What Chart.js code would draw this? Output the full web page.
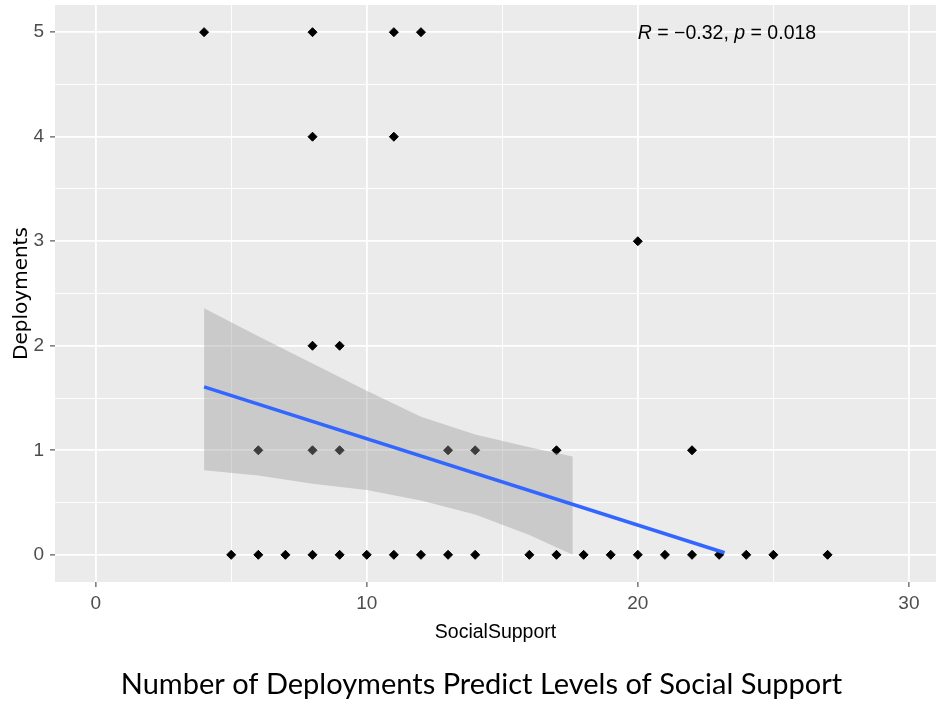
<!DOCTYPE html>
<html>
<head>
<meta charset="utf-8">
<script src="https://cdn.jsdelivr.net/npm/chart.js@4.4.1/dist/chart.umd.min.js"></script>
<style>
  html, body { margin: 0; padding: 0; background: #fff; }
</style>
</head>
<body>
<canvas id="corrChart" width="936" height="702"></canvas>
<script>
// observations
const socialSupport = [4, 8, 11, 12, 8, 11, 20, 8, 9, 6, 8, 9, 13, 14, 17, 22,
    5, 6, 7, 8, 9, 10, 11, 12, 13, 14, 16, 17, 18, 19, 20, 21, 22, 23, 24, 25, 27];
const deployments = [5, 5, 5, 5, 4, 4, 3, 2, 2, 1, 1, 1, 1, 1, 1, 1,
    0, 0, 0, 0, 0, 0, 0, 0, 0, 0, 0, 0, 0, 0, 0, 0, 0, 0, 0, 0, 0];

// lm fit + confidence band (clipped at y = 0 like the original)
const fitX = [4, 23.2];
const fitY = [1.607, 0.02];
const bandX = [4, 6, 8, 10, 12, 14, 16, 17.6];
const bandUpper = [2.36, 2.09, 1.83, 1.57, 1.32, 1.15, 1.03, 0.94];
const bandLower = [0.81, 0.76, 0.68, 0.62, 0.52, 0.385, 0.19, 0.0];

const xTicks = [0, 5, 10, 15, 20, 25, 30];
const yTicks = [0, 0.5, 1, 1.5, 2, 2.5, 3, 3.5, 4, 4.5, 5];

const corLabel = [['R', true], [' = \u22120.32, ', false], ['p', true], [' = 0.018', false]];
const corAt = { x: 20, y: 5 };

const tickFont = { family: "'Liberation Sans', Arial, sans-serif", size: 19 };

const panelBg = {
    id: 'panelBg',
    beforeDraw(chart) {
        const { ctx, chartArea: a } = chart;
        ctx.save();
        ctx.fillStyle = '#EBEBEB';
        ctx.fillRect(a.left, a.top, a.right - a.left, a.bottom - a.top);
        ctx.restore();
    }
};

const corText = {
    id: 'corText',
    afterDatasetsDraw(chart) {
        const { ctx, scales } = chart;
        let x = scales.x.getPixelForValue(corAt.x);
        const y = scales.y.getPixelForValue(corAt.y) + 1;
        ctx.save();
        ctx.fillStyle = '#000';
        ctx.textBaseline = 'middle';
        ctx.textAlign = 'left';
        corLabel.forEach(([txt, ital]) => {
            ctx.font = (ital ? 'italic ' : '') + "19.5px 'Liberation Sans', Arial, sans-serif";
            ctx.fillText(txt, x, y);
            x += ctx.measureText(txt).width;
        });
        ctx.restore();
    }
};

const isMajorX = v => v % 10 === 0;
const isMajorY = v => Number.isInteger(v);

new Chart(document.getElementById('corrChart'), {
    type: 'scatter',
    data: {
        datasets: [
            {
                type: 'line',
                label: 'fit',
                data: fitX.map((x, i) => ({ x, y: fitY[i] })),
                borderColor: '#3366FF',
                borderWidth: 3.6,
                pointRadius: 0,
                tension: 0,
                fill: false,
                order: 0
            },
            {
                type: 'line',
                label: 'upper',
                data: bandX.map((x, i) => ({ x, y: bandUpper[i] })),
                borderWidth: 0,
                borderColor: 'rgba(0,0,0,0)',
                backgroundColor: 'rgba(153,153,153,0.4)',
                pointRadius: 0,
                tension: 0,
                fill: '+1',
                order: 1
            },
            {
                type: 'line',
                label: 'lower',
                data: bandX.map((x, i) => ({ x, y: bandLower[i] })),
                borderWidth: 0,
                borderColor: 'rgba(0,0,0,0)',
                pointRadius: 0,
                tension: 0,
                fill: false,
                order: 1
            },
            {
                label: 'Deployments',
                data: socialSupport.map((x, i) => ({ x, y: deployments[i] })),
                pointStyle: 'rectRot',
                pointRadius: 4.5,
                backgroundColor: '#000',
                borderColor: '#000',
                borderWidth: 1,
                order: 2
            }
        ]
    },
    options: {
        responsive: false,
        devicePixelRatio: 1,
        animation: false,
        layout: {
            autoPadding: false,
            padding: { left: 27, right: 0, top: 5, bottom: 0 }
        },
        plugins: {
            legend: { display: false },
            tooltip: { enabled: false },
            title: {
                display: true,
                position: 'bottom',
                text: 'Number of Deployments Predict Levels of Social Support',
                color: '#000',
                font: { family: "Lato, 'Open Sans', sans-serif", size: 29, weight: 'normal', lineHeight: 1.2 },
                padding: { top: 0, bottom: 0 }
            }
        },
        scales: {
            x: {
                type: 'linear',
                min: -1.5,
                max: 31.0,
                afterBuildTicks: s => { s.ticks = xTicks.map(v => ({ value: v })); },
                afterFit: s => {
                    s.height = 85.2;
                    s.paddingLeft = 0;
                    s.paddingRight = 0;
                },
                border: { display: false },
                grid: {
                    color: '#fff',
                    lineWidth: c => isMajorX(c.tick.value) ? 1.8 : 0.9,
                    tickColor: c => isMajorX(c.tick.value) ? '#333333' : 'rgba(0,0,0,0)',
                    tickLength: 5,
                    tickWidth: 1
                },
                ticks: {
                    color: '#4D4D4D',
                    font: tickFont,
                    padding: 5,
                    maxRotation: 0,
                    autoSkip: false,
                    callback: v => isMajorX(v) ? String(v) : ''
                },
                title: {
                    display: true,
                    text: 'SocialSupport',
                    color: '#000',
                    font: { family: "'Liberation Sans', Arial, sans-serif", size: 19.5 },
                    padding: { top: 0, bottom: 23 }
                }
            },
            y: {
                min: -0.26,
                max: 5.26,
                afterBuildTicks: s => { s.ticks = yTicks.map(v => ({ value: v })); },
                afterFit: s => {
                    s.width = 28;
                    s.paddingTop = 0;
                    s.paddingBottom = 0;
                },
                border: { display: false },
                grid: {
                    color: '#fff',
                    lineWidth: c => isMajorY(c.tick.value) ? 1.8 : 0.9,
                    tickColor: c => isMajorY(c.tick.value) ? '#333333' : 'rgba(0,0,0,0)',
                    tickLength: 5,
                    tickWidth: 1
                },
                ticks: {
                    color: '#4D4D4D',
                    font: tickFont,
                    padding: 6,
                    autoSkip: false,
                    callback: v => isMajorY(v) ? String(v) : ''
                },
                title: {
                    display: true,
                    text: 'Deployments',
                    color: '#000',
                    font: { family: "'DejaVu Sans', sans-serif", size: 20 },
                    padding: { top: -17, bottom: 0 }
                }
            }
        }
    },
    plugins: [panelBg, corText]
});
</script>
</body>
</html>
